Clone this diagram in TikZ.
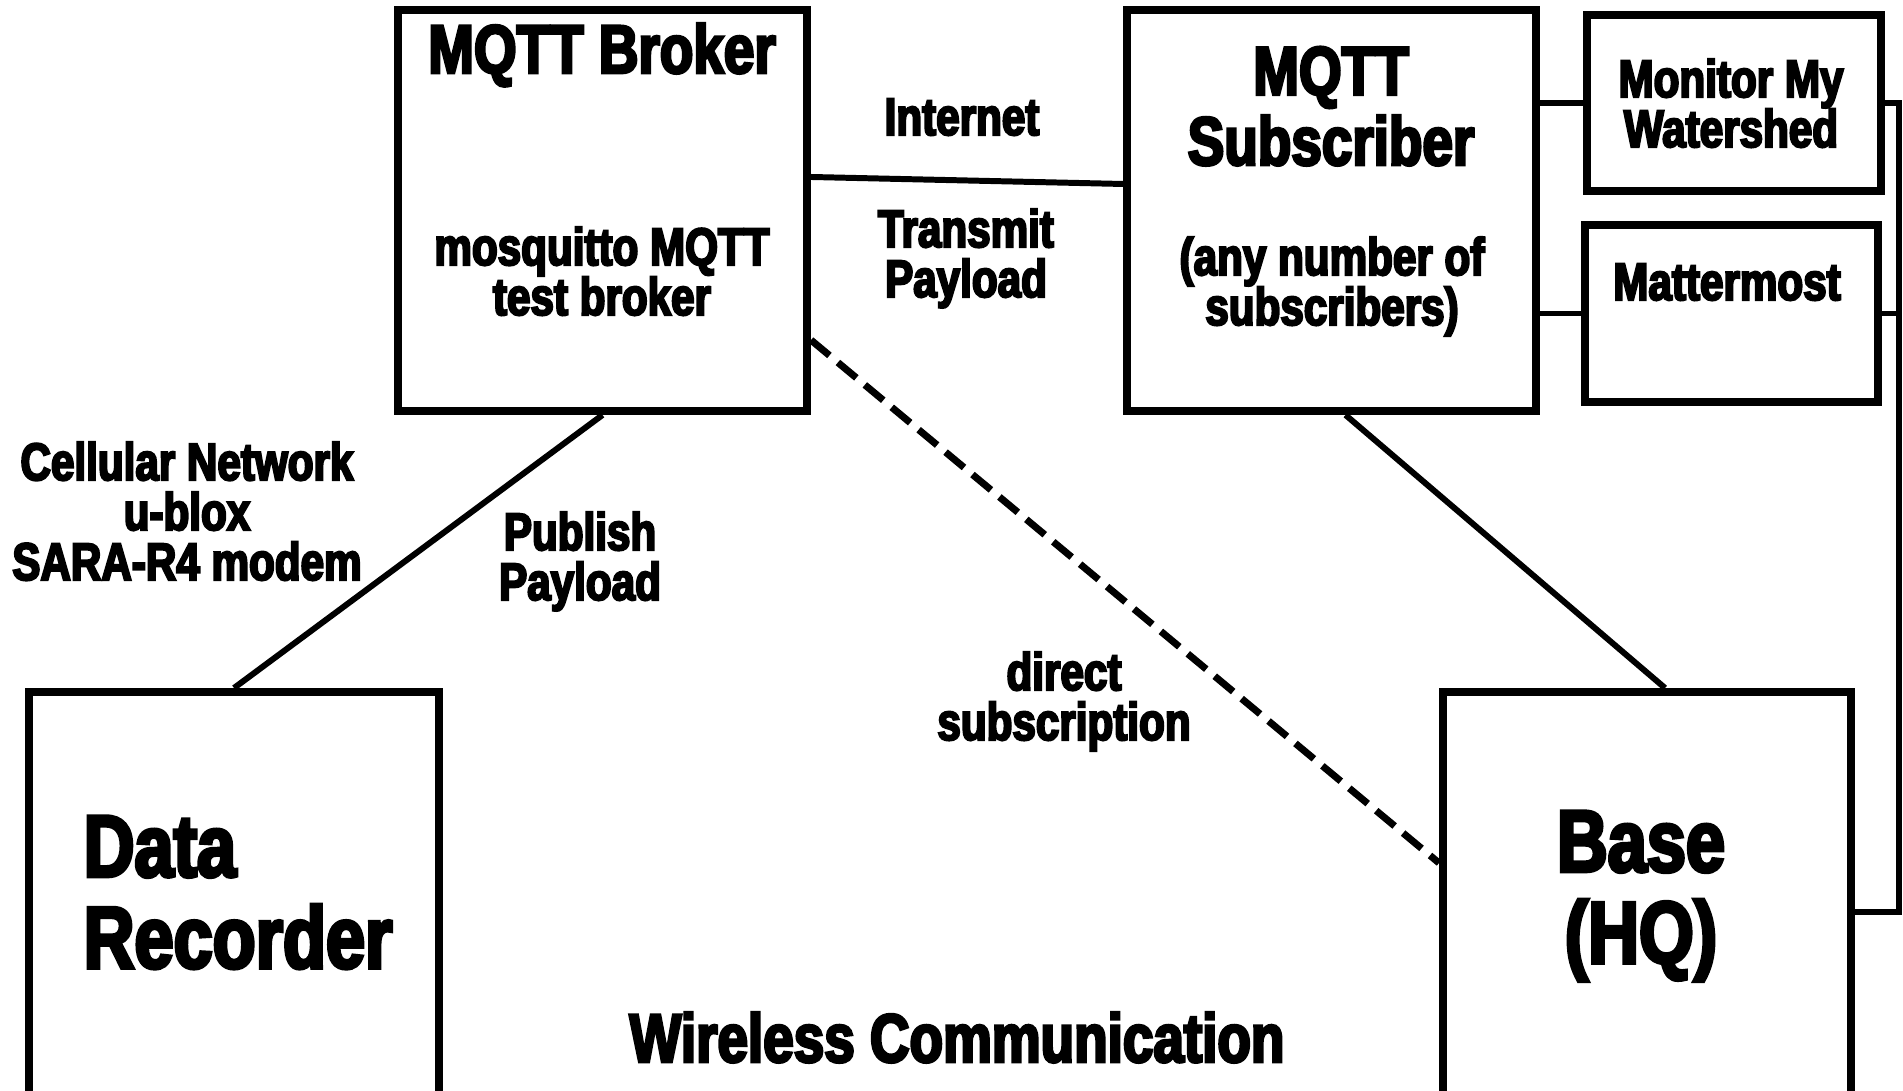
\documentclass[tikz,border=0pt]{standalone}
\usepackage{fontspec}
\setmainfont{Liberation Sans}[FakeStretch=0.8,BoldFeatures={FakeBold=4}]

\begin{document}
\begin{tikzpicture}[x=0.01cm,y=-0.01cm]
    \tikzset{box/.style  = {draw, line width=2.2pt, inner sep=0pt},
        link/.style      = {line width=1.7pt},
        lbl/.style       = {font=\bfseries\fontsize{15}{14.2}\selectfont,
                            align=center, anchor=base, inner sep=0pt},
        head/.style      = {lbl, font=\bfseries\fontsize{19.5}{20}\selectfont},
        huge/.style      = {lbl, font=\bfseries\fontsize{25}{26}\selectfont}
        }

    \def\Bus{1899};

    \useasboundingbox (0,0) rectangle (1903,1091);
    \clip (0,0) rectangle (1903,1091);

    % Draw the boxes.
    \node[box, minimum width=4.09cm, minimum height=4.01cm] (broker) at (602.5,210.5) {};
    \node[box, minimum width=4.09cm, minimum height=4.01cm] (sub) at (1331.5,210.5) {};
    \node[box, minimum width=2.94cm, minimum height=1.76cm] (mmw) at (1734,103) {};
    \node[box, minimum width=2.93cm, minimum height=1.77cm] (mm) at (1731.5,313.5) {};
    \node[box, minimum width=4.10cm, minimum height=4.30cm] (rec) at (234,907) {};
    \node[box, minimum width=4.08cm, minimum height=4.30cm] (base) at (1647,907) {};

    % Texts in the boxes (base = last line).
    \node[head] (brokertitle) at (602,73) {MQTT Broker};
    \node[lbl] (brokertext) at (602,315) {mosquitto MQTT\\test broker};
    \node[head] (subtitle) at (1331,165) {MQTT\\Subscriber};
    \node[lbl] (subtext) at (1332,325) {(any number of\\subscribers)};
    \node[lbl] (mmwtext) at (1731,147) {Monitor My\\Watershed};
    \node[lbl] (mmtext) at (1727,300) {Mattermost};
    \node[huge, align=left, anchor=base west] (rectext) at (83,968) {Data\\Recorder};
    \node[huge] (basetext) at (1641,963) {Base\\(HQ)};

    % Texts along the links.
    \node[lbl] (internet) at (962,135) {Internet};
    \node[lbl] (transmit) at (966,297) {Transmit\\Payload};
    \node[lbl] (cellular) at (187,580) {Cellular Network\\u-blox\\SARA-R4 modem};
    \node[lbl] (publish) at (580,600) {Publish\\Payload};
    \node[lbl] (direct) at (1064,740) {direct\\subscription};
    \node[head] (wireless) at (957,1062) {Wireless Communication};

    % Draw the links.
    \draw[link] ([yshift=0.335cm]broker.east) -- ([yshift=0.265cm]sub.west);
    \draw[link] (broker.south) -- (rec.north);
    \draw[link] ([xshift=0.14cm]sub.south) -- ([xshift=0.18cm]base.north);
    \draw[link, line width=2pt, dash pattern=on 0.24cm off 0.11cm] ([yshift=-1.295cm]broker.east) -- ([yshift=0.44cm]base.west);
    \draw[link] (sub.east |- mmw.west) -- (mmw.west);
    \draw[link] (sub.east |- mm.west) -- (mm.west);
    \draw[link] (mmw.east) -- (\Bus,103) coordinate (bustop) -- (\Bus,912) coordinate (busend) -- (busend -| base.east);
    \draw[link] (mm.east) -- (mm.east -| bustop);
\end{tikzpicture}
\end{document}
